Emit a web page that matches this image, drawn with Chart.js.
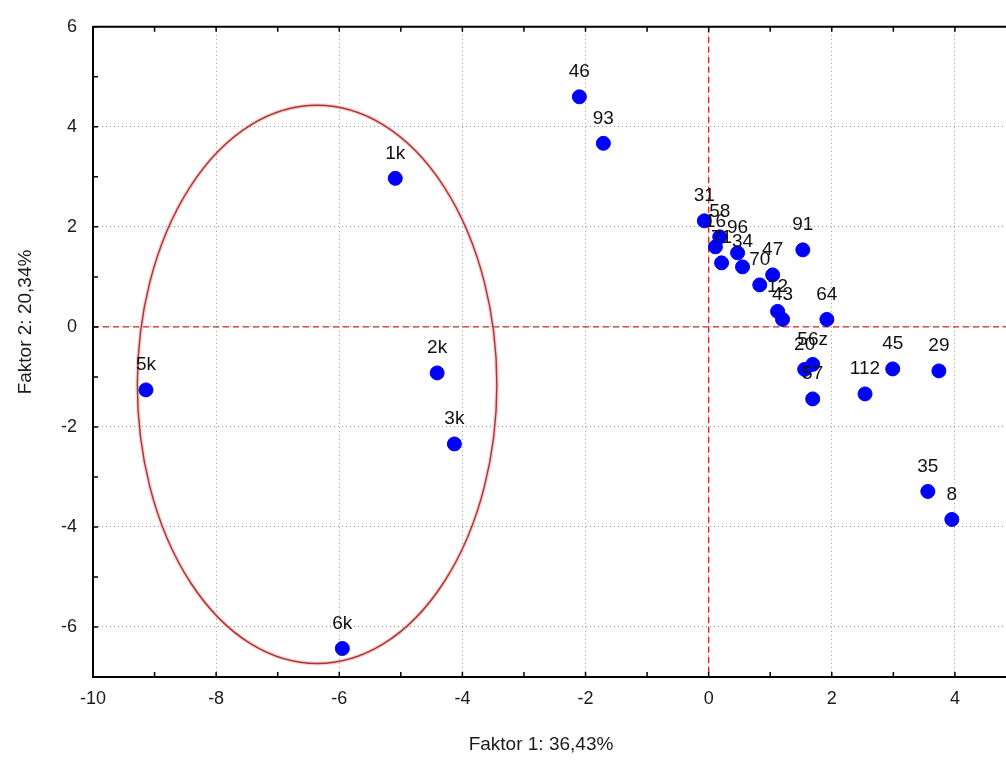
<!DOCTYPE html>
<html>
<head>
<meta charset="utf-8">
<style>
  html, body { margin: 0; padding: 0; background: #fff; }
  #wrap { width: 1006px; height: 762px; position: relative; }
</style>
<script src="https://cdn.jsdelivr.net/npm/chart.js@4"></script>
</head>
<body>
<div id="wrap"><canvas id="c" width="1006" height="762"></canvas></div>
<script>
// Case labels and their scores on the first two factors
const categories = ['46','93','1k','2k','3k','5k','6k','31','58','16','96','71','34','47','70','12','43','91','64','56z','20','57','112','45','29','35','8'];
const factor1 = [-2.10,-1.71,-5.09,-4.41,-4.13,-9.14,-5.95,-0.07,0.18,0.11,0.47,0.21,0.55,1.04,0.83,1.12,1.20,1.53,1.92,1.69,1.56,1.69,2.54,2.99,3.74,3.56,3.95];
const factor2 = [4.60,3.67,2.97,-0.92,-2.34,-1.26,-6.43,2.12,1.80,1.60,1.48,1.28,1.20,1.04,0.84,0.31,0.15,1.54,0.15,-0.75,-0.85,-1.44,-1.34,-0.84,-0.88,-3.29,-3.85];

// Axis ranges and labelled ticks
const xRange = [-10, 4.83];
const yRange = [-7, 6];
const xTickValues = [-10,-8,-6,-4,-2,0,2,4];
const yTickValues = [-6,-4,-2,0,2,4,6];

// Ellipse grouping the "k" cases (centre and semi-axes in data units)
const ellipseCenter = [-6.36, -1.15];
const ellipseRadii = [2.92, 5.58];

const xTitle = 'Faktor 1: 36,43%';
const yTitle = 'Faktor 2: 20,34%';

const FONT = '"Liberation Sans", Arial, sans-serif';

const decor = {
  id: 'decor',
  beforeDatasetsDraw(chart) {
    const { ctx, chartArea: a, scales: { x, y } } = chart;
    ctx.save();
    // origin cross-hair lines
    ctx.strokeStyle = '#cc2a2a';
    ctx.lineWidth = 1.3;
    ctx.setLineDash([6, 4]);
    const x0 = x.getPixelForValue(0), y0 = y.getPixelForValue(0);
    ctx.beginPath();
    ctx.moveTo(x0, a.top); ctx.lineTo(x0, a.bottom);
    ctx.moveTo(a.left, y0); ctx.lineTo(a.right, y0);
    ctx.stroke();
    ctx.setLineDash([]);
    // grouping ellipse
    const cx = x.getPixelForValue(ellipseCenter[0]);
    const cy = y.getPixelForValue(ellipseCenter[1]);
    const rx = Math.abs(x.getPixelForValue(ellipseCenter[0] + ellipseRadii[0]) - cx);
    const ry = Math.abs(y.getPixelForValue(ellipseCenter[1] + ellipseRadii[1]) - cy);
    ctx.strokeStyle = 'rgba(240,150,150,0.45)';
    ctx.lineWidth = 4;
    ctx.beginPath(); ctx.ellipse(cx, cy, rx, ry, 0, 0, Math.PI * 2); ctx.stroke();
    ctx.strokeStyle = '#a83434';
    ctx.lineWidth = 1.4;
    ctx.beginPath(); ctx.ellipse(cx, cy, rx, ry, 0, 0, Math.PI * 2); ctx.stroke();
    ctx.restore();
  },
  afterDatasetsDraw(chart) {
    const { ctx, chartArea: a, scales: { x, y } } = chart;
    ctx.save();
    // point labels above each marker
    ctx.fillStyle = '#111';
    ctx.font = '19px ' + FONT;
    ctx.textAlign = 'center';
    ctx.textBaseline = 'middle';
    const meta = chart.getDatasetMeta(0);
    meta.data.forEach((pt, i) => {
      ctx.fillText(categories[i], pt.x, pt.y - 25);
    });
    // top frame line
    ctx.strokeStyle = '#000';
    ctx.lineWidth = 2;
    ctx.beginPath();
    ctx.moveTo(a.left, a.top); ctx.lineTo(a.right, a.top);
    ctx.stroke();
    // inward tick marks at every unit
    ctx.lineWidth = 1.5;
    ctx.beginPath();
    for (let v = Math.ceil(xRange[0]); v <= xRange[1]; v++) {
      const px = x.getPixelForValue(v);
      ctx.moveTo(px, a.bottom); ctx.lineTo(px, a.bottom - 5);
      ctx.moveTo(px, a.top); ctx.lineTo(px, a.top + 5);
    }
    for (let v = yRange[0]; v <= yRange[1]; v++) {
      const py = y.getPixelForValue(v);
      ctx.moveTo(a.left, py); ctx.lineTo(a.left + 5, py);
    }
    ctx.stroke();
    // axis titles
    ctx.fillStyle = '#1a1a1a';
    ctx.font = '19px ' + FONT;
    ctx.textAlign = 'center';
    ctx.textBaseline = 'middle';
    ctx.fillText(xTitle, 541, 745);
    ctx.translate(26, 322);
    ctx.rotate(-Math.PI / 2);
    ctx.fillText(yTitle, 0, 0);
    ctx.restore();
  }
};

new Chart(document.getElementById('c'), {
  type: 'scatter',
  data: {
    datasets: [{
      data: categories.map((c, i) => ({ x: factor1[i], y: factor2[i] })),
      backgroundColor: '#0000ff',
      borderColor: '#0000ee',
      borderWidth: 1,
      pointRadius: 7,
      pointHoverRadius: 7
    }]
  },
  plugins: [decor],
  options: {
    responsive: false,
    animation: false,
    devicePixelRatio: 1,
    layout: { autoPadding: false, padding: { top: 25, right: 0, left: 0, bottom: 0 } },
    plugins: { legend: { display: false }, tooltip: { enabled: false } },
    scales: {
      x: {
        type: 'linear',
        min: xRange[0], max: xRange[1],
        afterBuildTicks: s => { s.ticks = xTickValues.map(v => ({ value: v })); },
        afterFit: s => { s.height = 85; },
        ticks: { color: '#1a1a1a', font: { family: FONT, size: 18 }, padding: 11, maxRotation: 0 },
        grid: { color: '#9a9a9a', lineWidth: 1, drawTicks: false },
        border: { display: true, color: '#000', width: 2, dash: [1, 3] }
      },
      y: {
        type: 'linear',
        min: yRange[0], max: yRange[1],
        afterBuildTicks: s => { s.ticks = yTickValues.map(v => ({ value: v })); },
        afterFit: s => { s.width = 93; },
        ticks: { color: '#1a1a1a', font: { family: FONT, size: 18 }, padding: 16 },
        grid: { color: '#9a9a9a', lineWidth: 1, drawTicks: false },
        border: { display: true, color: '#000', width: 2, dash: [1, 3] }
      }
    }
  }
});
</script>
</body>
</html>
